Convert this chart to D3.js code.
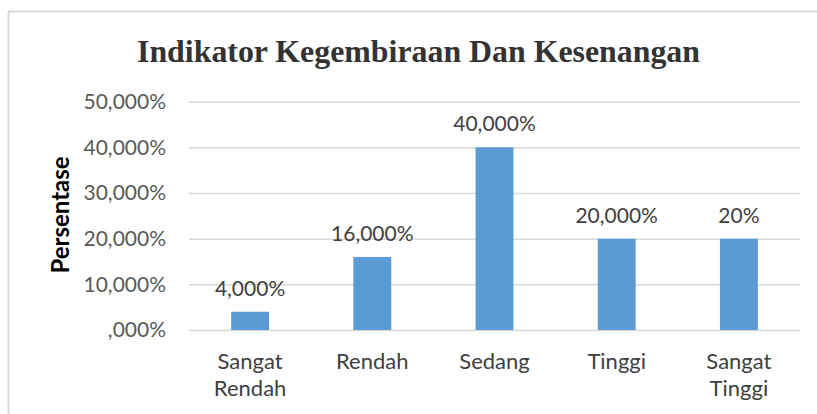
<!DOCTYPE html>
<html>
<head>
<meta charset="utf-8">
<script src="https://cdn.jsdelivr.net/npm/d3@7"></script>
<style>
  html, body { margin: 0; padding: 0; background: #fff; }
  svg { display: block; }
</style>
</head>
<body>
<div id="chart"></div>
<script>
// ---- data ----
const categories = [["Sangat", "Rendah"], ["Rendah"], ["Sedang"], ["Tinggi"], ["Sangat", "Tinggi"]];
const values = [4, 16, 40, 20, 20];
const valueLabels = ["4,000%", "16,000%", "40,000%", "20,000%", "20%"];
const yTicks = [0, 10, 20, 30, 40, 50];
const yTickLabels = [",000%", "10,000%", "20,000%", "30,000%", "40,000%", "50,000%"];
const title = "Indikator Kegembiraan Dan Kesenangan";
const yTitle = "Persentase";

// ---- layout ----
const W = 817, H = 414;
const plot = { left: 189, right: 800, top: 101.7, bottom: 330 };

const svg = d3.select("#chart").append("svg").attr("width", W).attr("height", H);
svg.append("rect").attr("x", 0).attr("y", 0).attr("width", W).attr("height", H).attr("fill", "#fff");

// chart border
svg.append("rect")
  .attr("x", 8.5).attr("y", 11.5).attr("width", W + 10).attr("height", H + 10)
  .attr("fill", "none").attr("stroke", "#d9d9d9").attr("stroke-width", 2);

const x = d3.scaleBand()
  .domain(d3.range(values.length))
  .range([plot.left, plot.right])
  .paddingInner(0.69)
  .paddingOuter(0.345);

const y = d3.scaleLinear().domain([0, 50]).range([plot.bottom, plot.top]);

// gridlines
const yAxis = d3.axisLeft(y)
  .tickValues(yTicks)
  .tickSize(-(plot.right - plot.left))
  .tickPadding(23)
  .tickFormat((d, i) => yTickLabels[i]);

const gy = svg.append("g").attr("transform", `translate(${plot.left},0)`).call(yAxis);
gy.select(".domain").remove();
gy.selectAll(".tick line").attr("stroke", "#d9d9d9").attr("stroke-width", 1.5);
gy.selectAll(".tick text")
  .attr("fill", "#595959")
  .style("font-family", "Lato, 'Open Sans', sans-serif")
  .style("font-size", "21px");

// bars
svg.append("g").selectAll("rect").data(values).join("rect")
  .attr("x", (d, i) => x(i))
  .attr("y", d => y(d))
  .attr("width", x.bandwidth())
  .attr("height", d => y(0) - y(d))
  .attr("fill", "#5b9bd5");

// value labels
svg.append("g").selectAll("text").data(values).join("text")
  .attr("x", (d, i) => x(i) + x.bandwidth() / 2)
  .attr("y", d => y(d) - 16)
  .attr("text-anchor", "middle")
  .attr("fill", "#404040")
  .style("font-family", "Lato, 'Open Sans', sans-serif")
  .style("font-size", "21px")
  .text((d, i) => valueLabels[i]);

// category labels
const xAxis = d3.axisBottom(x).tickSize(0).tickFormat(() => "");
const gx = svg.append("g").attr("transform", `translate(0,${plot.bottom})`).call(xAxis);
gx.select(".domain").remove();
gx.selectAll(".tick").each(function(d, i) {
  const t = d3.select(this).append("text")
    .attr("text-anchor", "middle")
    .attr("fill", "#404040")
    .style("font-family", "Lato, 'Open Sans', sans-serif")
    .style("font-size", "22px");
  categories[i].forEach((line, j) => {
    t.append("tspan").attr("x", 0).attr("y", 39 + j * 27).text(line);
  });
});

// y title
svg.append("text")
  .attr("transform", `translate(69,215) rotate(-90)`)
  .attr("text-anchor", "middle")
  .attr("fill", "#000")
  .style("font-family", "Lato, 'Open Sans', sans-serif")
  .style("font-weight", "bold")
  .style("font-size", "24px")
  .text(yTitle);

// title
svg.append("text")
  .attr("x", 418.5)
  .attr("y", 62)
  .attr("text-anchor", "middle")
  .attr("fill", "#333")
  .style("font-family", "'Liberation Serif', 'Times New Roman', serif")
  .style("font-weight", "bold")
  .style("font-size", "32px")
  .attr("textLength", 563)
  .attr("lengthAdjust", "spacingAndGlyphs")
  .text(title);
</script>
</body>
</html>
